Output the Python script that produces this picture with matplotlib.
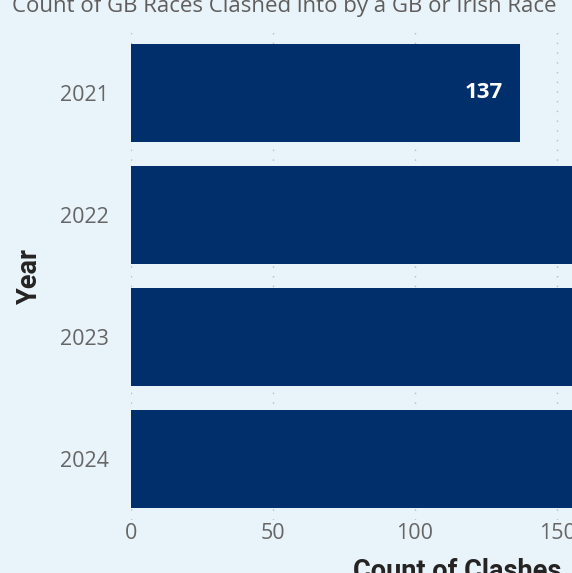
import matplotlib
matplotlib.use("Agg")
import matplotlib.pyplot as plt

# 数据
years = ["2021", "2022", "2023", "2024"]
clashes = [137, 190, 200, 185]
x_ticks = [0, 50, 100, 150]

bg = "#E9F3FA"
navy = "#002F6C"

plt.rcParams["font.family"] = ["Open Sans", "DejaVu Sans"]

W, H = 572, 573
fig = plt.figure(figsize=(W / 100, H / 100), dpi=100, facecolor=bg)

# 坐标轴故意超出右边界，模拟被裁剪的截图
left, right, top, bottom = 131, 783, 32, 520
ax = fig.add_axes([left / W, 1 - bottom / H, (right - left) / W, (bottom - top) / H])
ax.set_facecolor(bg)

pos = range(len(years))
ax.barh(pos, clashes, height=0.8, color=navy, zorder=2)
ax.set_ylim(3.5, -0.5)
xmax = (right - left) / 2.84
ax.set_xlim(0, xmax)

# 只标注在画面内可见的数值
visible = (W - left) / 2.84
for i, v in enumerate(clashes):
    if v < visible:
        ax.text(v - 6, i, str(v), color="white", fontsize=16, fontweight="bold",
                ha="right", va="center", zorder=3)

ax.set_yticks(list(pos))
ax.set_yticklabels(years)
ax.set_xticks(x_ticks)
ax.tick_params(axis="both", length=0, labelsize=15.5, labelcolor="#666666")
ax.tick_params(axis="y", pad=16)
ax.tick_params(axis="x", pad=2)

ax.grid(axis="x", color="#BBBBBB", linestyle=(0, (1, 6)), linewidth=1, zorder=1)
for s in ax.spines.values():
    s.set_visible(False)

ax.set_ylabel("Year", fontsize=19.5, fontweight="bold", color="#252423",
              family=["Roboto", "DejaVu Sans"], labelpad=12)
ax.set_xlabel("Count of Clashes", fontsize=19.5, fontweight="bold", color="#252423",
              family=["Roboto", "DejaVu Sans"], labelpad=10)

fig.text(12 / W, 1 - 12 / H, "Count of GB Races Clashed into by a GB or Irish Race",
         fontsize=16, color="#605E5C", ha="left", va="baseline")

fig.savefig("out.png", dpi=100, facecolor=bg)
